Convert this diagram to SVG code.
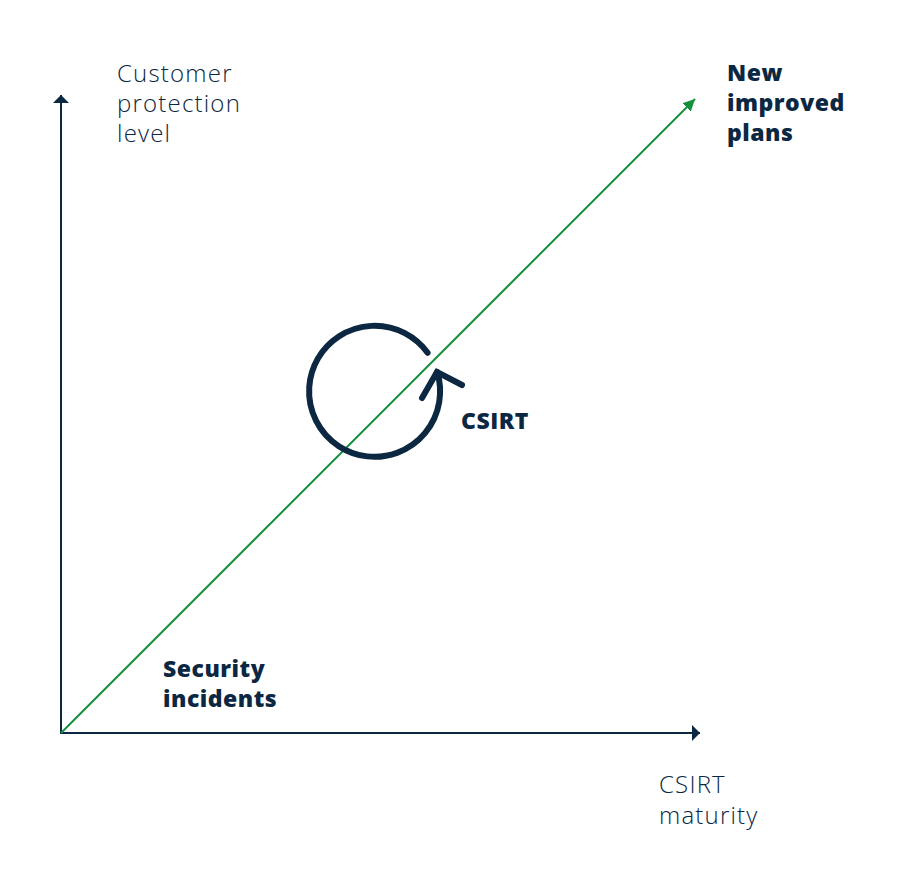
<svg xmlns="http://www.w3.org/2000/svg" width="913" height="874" viewBox="0 0 913 874">
<style>
.lbl{font-family:"Open Sans","Liberation Sans",sans-serif;font-size:24px;fill:#0b2741;font-weight:300;letter-spacing:1.2px}
.bold{font-size:23px;font-weight:800;letter-spacing:0.5px}
.axis{stroke:#0b2741;stroke-width:2;fill:none}
</style>
<defs>
<marker id="navyArrow" viewBox="0 0 10 10" refX="10" refY="5" markerWidth="8" markerHeight="16" markerUnits="userSpaceOnUse" orient="auto" preserveAspectRatio="none">
<path d="M0,0 L10,5 L0,10 Z" fill="#0b2741"/>
</marker>
<marker id="greenArrow" viewBox="0 0 10 10" refX="10" refY="5" markerWidth="12" markerHeight="12" markerUnits="userSpaceOnUse" orient="auto">
<path d="M0,0 L10,5 L0,10 Z" fill="#16903c"/>
</marker>
</defs>
<rect width="913" height="874" fill="#ffffff"/>
<g id="connectors">
<line class="axis" x1="61" y1="734" x2="61" y2="95" marker-end="url(#navyArrow)"/>
<line class="axis" x1="60" y1="733" x2="700" y2="733" marker-end="url(#navyArrow)"/>
<line x1="61" y1="733" x2="695" y2="99" stroke="#16903c" stroke-width="2" marker-end="url(#greenArrow)"/>
</g>
<g id="cycle">
<path d="M427.6,352.8 A65.5,65.5 0 1 0 437.2,372" fill="none" stroke="#0b2741" stroke-width="6" stroke-linecap="round"/>
<path d="M422,398 L437,372 L462,385" fill="none" stroke="#0b2741" stroke-width="6" stroke-linecap="round" stroke-linejoin="miter"/>
</g>
<g id="y-label">
<text class="lbl" x="117" y="82">Customer</text>
<text class="lbl" x="117" y="112">protection</text>
<text class="lbl" x="117" y="142">level</text>
</g>
<g id="new-improved-plans">
<text class="lbl bold" x="727" y="81">New</text>
<text class="lbl bold" x="727" y="111">improved</text>
<text class="lbl bold" x="727" y="141">plans</text>
</g>
<g id="csirt">
<text class="lbl bold" x="461" y="429">CSIRT</text>
</g>
<g id="security-incidents">
<text class="lbl bold" x="163" y="677">Security</text>
<text class="lbl bold" x="163" y="707">incidents</text>
</g>
<g id="x-label">
<text class="lbl" x="659" y="793">CSIRT</text>
<text class="lbl" x="659" y="824">maturity</text>
</g>
</svg>
